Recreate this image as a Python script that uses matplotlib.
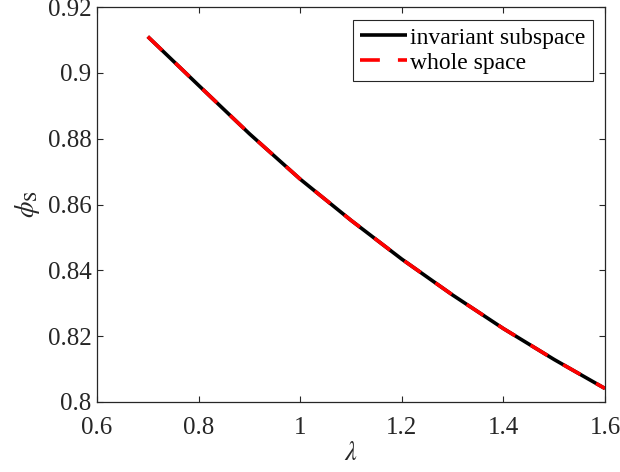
import matplotlib
matplotlib.use("Agg")
import matplotlib.pyplot as plt
from matplotlib.ticker import FuncFormatter

# Data
lam = [0.7, 0.8, 0.9, 1.0, 1.1, 1.2, 1.3, 1.4, 1.5, 1.6]
phi_invariant = [0.9110, 0.8962, 0.8815, 0.8677, 0.8552, 0.8434, 0.8325, 0.8223, 0.8129, 0.8041]
phi_whole = [0.9110, 0.8962, 0.8815, 0.8677, 0.8552, 0.8434, 0.8325, 0.8223, 0.8129, 0.8041]
xticks = [0.6, 0.8, 1.0, 1.2, 1.4, 1.6]
yticks = [0.8, 0.82, 0.84, 0.86, 0.88, 0.9, 0.92]

plt.rcParams['font.family'] = ['Liberation Serif', 'DejaVu Serif']
plt.rcParams['mathtext.fontset'] = 'stix'

fig = plt.figure(figsize=(6.2, 4.72), dpi=100)
ax = fig.add_axes([97/620, 1-402/472, (605-97)/620, (402-7)/472])

gray = (0.15, 0.15, 0.15)
ax.plot(lam, phi_invariant, color='black', lw=2.6, solid_capstyle='butt',
        label='invariant subspace')
ax.plot(lam, phi_whole, color='red', lw=2.6, dash_capstyle='butt',
        linestyle=(0, (5.5, 5.0)), label='whole space')

ax.set_xlim(0.6, 1.6)
ax.set_ylim(0.8, 0.92)
ax.set_xticks(xticks)
ax.set_yticks(yticks)
ax.xaxis.set_major_formatter(FuncFormatter(lambda v, p: '%g' % round(v, 4)))
ax.yaxis.set_major_formatter(FuncFormatter(lambda v, p: '%g' % round(v, 4)))
ax.tick_params(direction='in', length=4, width=0.8, top=True, right=True,
               labelsize=18, colors=gray)
ax.tick_params(axis='x', pad=11)
ax.tick_params(axis='y', pad=4)
for s in ax.spines.values():
    s.set_color(gray)
    s.set_linewidth(0.9)

ax.set_xlabel(r'$\lambda$', fontsize=19, color=gray, labelpad=2)
ax.set_ylabel(r'$\phi_{\rm S}$', fontsize=19, color=gray, labelpad=4)

leg = ax.legend(loc='upper right', bbox_to_anchor=((592.7-97)/508, 1-(20-7)/395),
                borderaxespad=0, fontsize=17, handlelength=2.0, handletextpad=0.12,
                labelspacing=0.15, borderpad=0.3, fancybox=False, framealpha=1,
                edgecolor=gray)
leg.get_frame().set_linewidth(0.8)

fig.savefig('out.png', dpi=100)
